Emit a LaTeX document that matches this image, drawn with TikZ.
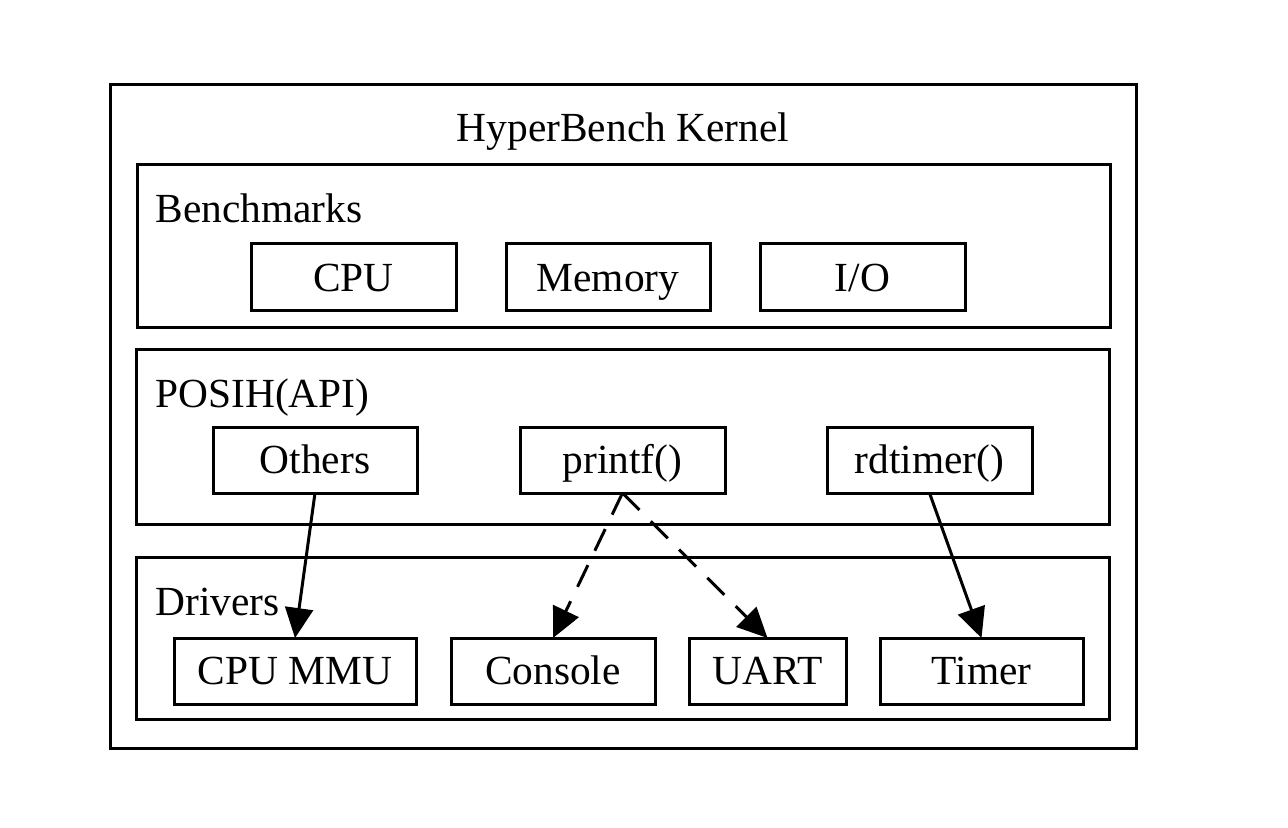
\documentclass[tikz,border=0pt]{standalone}
\usepackage{fontspec}
\setmainfont{Liberation Serif}
\usetikzlibrary{arrows.meta}
\begin{document}
\begin{tikzpicture}[x=0.5pt,y=-0.5pt,
  box/.style={draw,line width=1.5pt,inner sep=0pt,outer sep=0pt,text height=13.7pt,text depth=0pt,font=\fontsize{20.7pt}{24pt}\selectfont},
  frame/.style={draw,line width=1.5pt,inner sep=0pt,outer sep=0pt},
  lbl/.style={inner sep=0pt,anchor=base west,font=\fontsize{20.7pt}{24pt}\selectfont},
  arr/.style={line width=1.5pt,-{Triangle[length=15pt,width=14pt]}},
  darr/.style={arr,dash pattern=on 12pt off 8pt}]
\useasboundingbox (0,0) rectangle (1288,828);
% containers
\node[frame,minimum width=513pt,minimum height=331.5pt] (kernel) at (623,416.5) {};
\node[inner sep=0pt,anchor=base,font=\fontsize{20.7pt}{24pt}\selectfont] (ktitle) at (623,142) {HyperBench Kernel};
\node[frame,minimum width=486.5pt,minimum height=81pt] (bench) at (623.5,246) {};
\node[lbl] (benchl) at (155,223) {Benchmarks};
\node[frame,minimum width=486.5pt,minimum height=87.5pt] (posih) at (622.5,436.5) {};
\node[lbl] (posihl) at (155,407) {POSIH(API)};
\node[frame,minimum width=486.5pt,minimum height=81pt] (drivers) at (622.5,638) {};
\node[lbl] (driversl) at (155,615) {Drivers};
% benchmarks
\node[box,minimum width=102.5pt,minimum height=33.5pt] (cpu) at (353.5,277.5) {CPU};
\node[box,minimum width=102pt,minimum height=33.5pt] (mem) at (608,277.5) {Memory};
\node[box,minimum width=102.5pt,minimum height=33.5pt] (io) at (862.5,277.5) {I/O};
% api
\node[box,minimum width=102pt,minimum height=33pt] (others) at (315,460) {Others};
\node[box,minimum width=102.5pt,minimum height=33pt] (printf) at (622.5,460) {printf()};
\node[box,minimum width=102.5pt,minimum height=33pt] (rdtimer) at (929.5,460) {rdtimer()};
% drivers
\node[box,minimum width=121pt,minimum height=33pt] (mmu) at (295,671) {CPU MMU};
\node[box,minimum width=102pt,minimum height=33pt] (console) at (553,671) {Console};
\node[box,minimum width=78.5pt,minimum height=33pt] (uart) at (767.5,671) {UART};
\node[box,minimum width=101.5pt,minimum height=33pt] (timer) at (981.5,671) {Timer};
% arrows
\draw[arr] (others.south) -- (mmu.north);
\draw[darr] (printf.south) -- (console.north);
\draw[darr] (printf.south) -- (uart.north);
\draw[arr] (rdtimer.south) -- (timer.north);
\end{tikzpicture}
\end{document}
